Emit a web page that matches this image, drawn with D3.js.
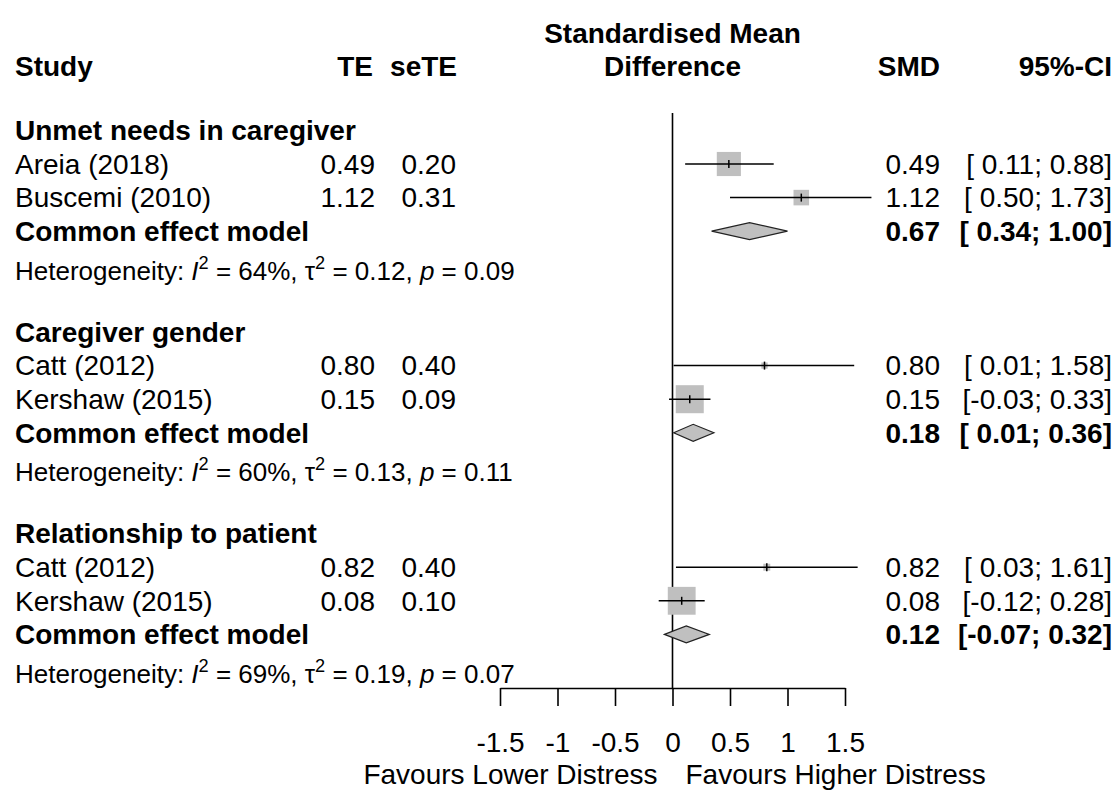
<!DOCTYPE html>
<html>
<head>
<meta charset="utf-8">
<script src="https://cdn.jsdelivr.net/npm/d3@7"></script>
<style>
  body { margin: 0; background: #fff; }
  svg { display: block; font-family: "Liberation Sans", Arial, sans-serif; }
  text { white-space: pre; }
</style>
</head>
<body>
<svg id="chart"></svg>
<script>
// subgroups
const groupNames = ['Unmet needs in caregiver', 'Caregiver gender', 'Relationship to patient'];

// studies
const studyNames = ['Areia (2018)', 'Buscemi (2010)', 'Catt (2012)', 'Kershaw (2015)', 'Catt (2012)', 'Kershaw (2015)'];
const studyGroup = [0, 0, 1, 1, 2, 2];
const te = [0.49, 1.12, 0.80, 0.15, 0.82, 0.08];
const seTE = [0.20, 0.31, 0.40, 0.09, 0.40, 0.10];
const ciLower = [0.11, 0.50, 0.01, -0.03, 0.03, -0.12];
const ciUpper = [0.88, 1.73, 1.58, 0.33, 1.61, 0.28];
const weights = [70.6, 29.4, 4.8, 95.2, 5.9, 94.1]; // % within subgroup, judged from square size

// common effect model per subgroup
const pooledTE = [0.67, 0.18, 0.12];
const pooledLower = [0.34, 0.01, -0.07];
const pooledUpper = [1.00, 0.36, 0.32];
const hetI2 = ['64%', '60%', '69%'];
const hetTau2 = ['0.12', '0.13', '0.19'];
const hetP = ['0.09', '0.11', '0.07'];

const xTicks = [-1.5, -1, -0.5, 0, 0.5, 1, 1.5];
const labelLeft = 'Favours Lower Distress';
const labelRight = 'Favours Higher Distress';

const width = 1118, height = 790;
const fs = 28, fsHet = 26;

const svg = d3.select('#chart')
    .attr('width', width)
    .attr('height', height);

// build the row list: group title, studies, summary, heterogeneity, blank
const rows = [];
groupNames.forEach((g, gi) => {
    rows.push({ type: 'group', g: gi });
    studyGroup.forEach((sg, si) => { if (sg === gi) rows.push({ type: 'study', s: si }); });
    rows.push({ type: 'pooled', g: gi });
    rows.push({ type: 'het', g: gi });
    if (gi < groupNames.length - 1) rows.push({ type: 'blank' });
});

const yRow = d3.scaleLinear()
    .domain([0, rows.length - 1])
    .range([130.4, 668]);

const x = d3.scaleLinear()
    .domain([-1.5, 1.5])
    .range([500, 845]);

const size = d3.scaleSqrt()
    .domain([0, 100])
    .range([0, 28.7]);

const axisY = 688;

const fmt = v => v.toFixed(2);
const ciText = (lo, hi) => `[${lo < 0 ? '' : ' '}${fmt(lo)}; ${fmt(hi)}]`;

// column headers
const head = svg.append('g').attr('font-weight', 'bold').attr('font-size', fs).attr('fill', '#000');
head.append('text').attr('x', 15).attr('y', 76).text('Study');
head.append('text').attr('x', 373).attr('y', 76).attr('text-anchor', 'end').text('TE');
head.append('text').attr('x', 457).attr('y', 76).attr('text-anchor', 'end').text('seTE');
head.append('text').attr('x', x(0)).attr('y', 43).attr('text-anchor', 'middle').text('Standardised Mean');
head.append('text').attr('x', x(0)).attr('y', 76).attr('text-anchor', 'middle').text('Difference');
head.append('text').attr('x', 940).attr('y', 76).attr('text-anchor', 'end').text('SMD');
head.append('text').attr('x', 1112).attr('y', 76).attr('text-anchor', 'end').text('95%-CI');

// line of no effect
svg.append('line')
    .attr('x1', x(0)).attr('x2', x(0))
    .attr('y1', 113).attr('y2', axisY)
    .attr('stroke', '#000')
    .attr('stroke-width', 1.6);

const body = svg.append('g').attr('font-size', fs).attr('fill', '#000');

rows.forEach((r, i) => {
    const y = yRow(i);
    const base = y + fs * 0.35;
    if (r.type === 'group') {
        body.append('text').attr('x', 15).attr('y', base)
            .attr('font-weight', 'bold').text(groupNames[r.g]);
    } else if (r.type === 'study') {
        const s = r.s;
        body.append('text').attr('x', 15).attr('y', base).text(studyNames[s]);
        body.append('text').attr('x', 375).attr('y', base).attr('text-anchor', 'end').text(fmt(te[s]));
        body.append('text').attr('x', 456).attr('y', base).attr('text-anchor', 'end').text(fmt(seTE[s]));
        body.append('text').attr('x', 940).attr('y', base).attr('text-anchor', 'end').text(fmt(te[s]));
        body.append('text').attr('x', 1112).attr('y', base).attr('text-anchor', 'end').text(ciText(ciLower[s], ciUpper[s]));

        // square sized by weight
        const w = size(weights[s]);
        svg.append('rect')
            .attr('x', x(te[s]) - w / 2).attr('y', y - w / 2)
            .attr('width', w).attr('height', w)
            .attr('fill', '#bfbfbf');
        // confidence interval
        svg.append('line')
            .attr('x1', x(ciLower[s])).attr('x2', x(ciUpper[s]))
            .attr('y1', y).attr('y2', y)
            .attr('stroke', '#000').attr('stroke-width', 1.5);
        // point estimate
        svg.append('line')
            .attr('x1', x(te[s])).attr('x2', x(te[s]))
            .attr('y1', y - 4).attr('y2', y + 4)
            .attr('stroke', '#000').attr('stroke-width', 1.5);
    } else if (r.type === 'pooled') {
        const g = r.g;
        body.append('text').attr('x', 15).attr('y', base)
            .attr('font-weight', 'bold').text('Common effect model');
        body.append('text').attr('x', 940).attr('y', base).attr('text-anchor', 'end')
            .attr('font-weight', 'bold').text(fmt(pooledTE[g]));
        body.append('text').attr('x', 1112).attr('y', base).attr('text-anchor', 'end')
            .attr('font-weight', 'bold').text(ciText(pooledLower[g], pooledUpper[g]));

        const h = 8.5;
        svg.append('polygon')
            .attr('points', [
                [x(pooledLower[g]), y],
                [x(pooledTE[g]), y - h],
                [x(pooledUpper[g]), y],
                [x(pooledTE[g]), y + h]
            ].map(p => p.join(',')).join(' '))
            .attr('fill', '#c0c0c0')
            .attr('stroke', '#222')
            .attr('stroke-width', 1.2);
    } else if (r.type === 'het') {
        const g = r.g;
        // heterogeneity line sits a little lower than the grid
        const t = body.append('text').attr('x', 15).attr('y', base + 5).attr('font-size', fsHet);
        t.append('tspan').text('Heterogeneity: ');
        t.append('tspan').attr('font-style', 'italic').text('I');
        t.append('tspan').attr('font-size', fsHet * 0.7).attr('dy', -11).text('2');
        t.append('tspan').attr('dy', 11).text(` = ${hetI2[g]}, \u03c4`);
        t.append('tspan').attr('font-size', fsHet * 0.7).attr('dy', -11).text('2');
        t.append('tspan').attr('dy', 11).text(` = ${hetTau2[g]}, `);
        t.append('tspan').attr('font-style', 'italic').text('p');
        t.append('tspan').text(` = ${hetP[g]}`);
    }
});

// x axis
const xAxis = d3.axisBottom(x)
    .tickValues(xTicks)
    .tickFormat(d => String(d))
    .tickSize(18)
    .tickSizeOuter(0)
    .tickPadding(26);

const ax = svg.append('g')
    .attr('transform', `translate(0, ${axisY})`)
    .call(xAxis);
ax.selectAll('path, line').attr('stroke', '#000').attr('stroke-width', 1.6);
ax.selectAll('text')
    .attr('font-size', fs)
    .attr('font-family', '"Liberation Sans", Arial, sans-serif')
    .attr('fill', '#000');

svg.append('text')
    .attr('x', x(0) - 15).attr('y', 784)
    .attr('text-anchor', 'end').attr('font-size', fs)
    .text(labelLeft);
svg.append('text')
    .attr('x', x(0) + 13).attr('y', 784)
    .attr('font-size', fs)
    .text(labelRight);
</script>
</body>
</html>
